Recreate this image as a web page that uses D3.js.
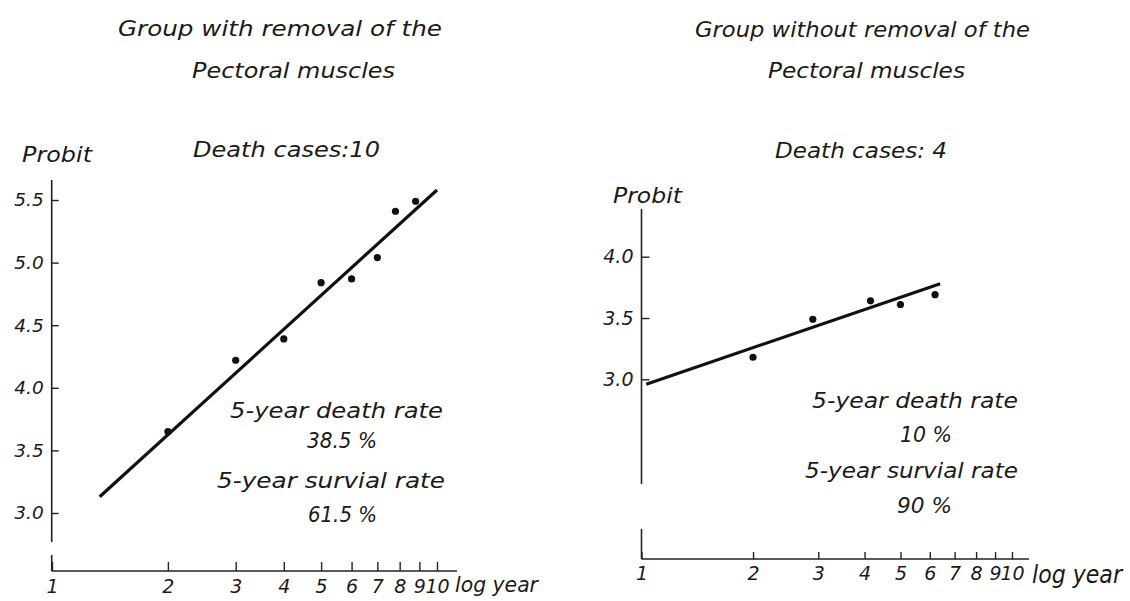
<!DOCTYPE html>
<html>
<head>
<meta charset="utf-8">
<script src="https://cdn.jsdelivr.net/npm/d3@7"></script>
<style>
  html, body { margin: 0; padding: 0; background: #fff; }
  svg { display: block; }
  text { font-family: "DejaVu Sans", sans-serif; font-style: italic; fill: #1a1a1a; }
</style>
</head>
<body>
<svg id="chart" width="1130" height="601"></svg>
<script>
// ---------------- DATA ----------------
const xTickValues = [1, 2, 3, 4, 5, 6, 7, 8, 9, 10];

// Left panel: group with removal of the pectoral muscles
const leftYears   = [2, 3, 4, 5, 6, 7, 7.8, 8.8];
const leftProbits = [3.65, 4.22, 4.39, 4.84, 4.87, 5.04, 5.41, 5.49];
const leftFitYears   = [1.33, 10];
const leftFitProbits = [3.13, 5.58];
const leftYTicks = [3.0, 3.5, 4.0, 4.5, 5.0, 5.5];

// Right panel: group without removal of the pectoral muscles
const rightYears   = [2, 2.9, 4.15, 5, 6.2];
const rightProbits = [3.18, 3.49, 3.64, 3.61, 3.69];
const rightFitYears   = [1.03, 6.4];
const rightFitProbits = [2.96, 3.78];
const rightYTicks = [3.0, 3.5, 4.0];

const leftTexts  = ["Group with removal of the", "Pectoral muscles", "Death cases:10", "Probit",
                    "5-year death rate", "38.5 %", "5-year survial rate", "61.5 %", "log year"];
const rightTexts = ["Group without removal of the", "Pectoral muscles", "Death cases: 4", "Probit",
                    "5-year death rate", "10 %", "5-year survial rate", "90 %", "log year"];

// ---------------- LAYOUT ----------------
const svg = d3.select("#chart");

const panels = [
  {
    years: leftYears, probits: leftProbits, fitX: leftFitYears, fitY: leftFitProbits,
    yTicks: leftYTicks, texts: leftTexts,
    xRange: [52, 437], yDomain: [3.0, 5.5], yRange: [513, 200],
    axisX: 51.7, axisY: 571,
    yAxisSegs: [[180, 542], [555, 571]], xAxisEnd: 457,
    yTickLen: 7, xTickLen: 9, yLabelSize: 18.5, xLabelSize: 19, xLabelPad: 9,
    textPos: [
      [118, 36, 324, 21], [192, 78, 203, 21], [193, 157, 187, 21], [22, 162, 70, 22],
      [230, 418, 213, 21], [307, 448, 70, 21], [217, 488, 228, 21], [308, 522, 69, 21],
      [455, 592, 83, 22]
    ]
  },
  {
    years: rightYears, probits: rightProbits, fitX: rightFitYears, fitY: rightFitProbits,
    yTicks: rightYTicks, texts: rightTexts,
    xRange: [641.5, 1012], yDomain: [3.0, 4.0], yRange: [379.3, 256.7],
    axisX: 641.5, axisY: 559,
    yAxisSegs: [[209, 484], [529, 559]], xAxisEnd: 1029,
    yTickLen: 8, xTickLen: 7, yLabelSize: 19, xLabelSize: 19, xLabelPad: 8,
    textPos: [
      [695, 37, 335, 21], [768, 78, 197, 21], [775, 158, 172, 21], [613, 203, 69, 22],
      [812, 408, 206, 21], [900, 442, 52, 21], [805, 478, 213, 21], [897, 513, 55, 21],
      [1032, 583, 90, 24]
    ]
  }
];

panels.forEach(p => {
  const g = svg.append("g");
  const x = d3.scaleLog().domain([1, 10]).range(p.xRange);
  const y = d3.scaleLinear().domain(p.yDomain).range(p.yRange);

  // broken y axis line
  p.yAxisSegs.forEach(s => {
    g.append("line").attr("x1", p.axisX).attr("x2", p.axisX)
      .attr("y1", s[0]).attr("y2", s[1])
      .attr("stroke", "#222").attr("stroke-width", 1.6);
  });
  // x axis line
  g.append("line").attr("x1", p.axisX).attr("x2", p.xAxisEnd)
    .attr("y1", p.axisY).attr("y2", p.axisY)
    .attr("stroke", "#222").attr("stroke-width", 1.6);

  // y axis ticks (inward)
  const yAxis = d3.axisLeft(y).tickValues(p.yTicks).tickFormat(d3.format(".1f"))
    .tickSizeInner(-p.yTickLen).tickSizeOuter(0).tickPadding(8);
  const ya = g.append("g").attr("transform", `translate(${p.axisX},0)`).call(yAxis);
  ya.select(".domain").remove();
  ya.selectAll("line").attr("stroke", "#222").attr("stroke-width", 1.4);
  ya.selectAll("text").attr("font-size", p.yLabelSize)
    .style("font-family", "'DejaVu Sans', sans-serif").style("font-style", "italic").attr("fill", "#1a1a1a");

  // x axis ticks (upward)
  const xAxis = d3.axisBottom(x).tickValues(xTickValues).tickFormat(d3.format("d"))
    .tickSizeInner(-p.xTickLen).tickSizeOuter(0).tickPadding(p.xLabelPad);
  const xa = g.append("g").attr("transform", `translate(0,${p.axisY})`).call(xAxis);
  xa.select(".domain").remove();
  xa.selectAll("line").attr("stroke", "#222").attr("stroke-width", 1.4);
  xa.selectAll("text").attr("font-size", p.xLabelSize)
    .style("font-family", "'DejaVu Sans', sans-serif").style("font-style", "italic").attr("fill", "#1a1a1a");

  // regression line
  const fit = p.fitX.map((v, i) => [v, p.fitY[i]]);
  g.append("path").datum(fit)
    .attr("d", d3.line().x(d => x(d[0])).y(d => y(d[1])))
    .attr("fill", "none").attr("stroke", "#111").attr("stroke-width", 3.2);

  // points
  g.selectAll("circle.pt").data(p.years.map((v, i) => [v, p.probits[i]]))
    .join("circle").attr("class", "pt")
    .attr("cx", d => x(d[0])).attr("cy", d => y(d[1])).attr("r", 3.6)
    .attr("fill", "#111");

  // texts
  p.texts.forEach((t, i) => {
    const [tx, ty, len, fs] = p.textPos[i];
    g.append("text").attr("x", tx).attr("y", ty)
      .attr("font-size", fs)
      .attr("textLength", len).attr("lengthAdjust", "spacingAndGlyphs")
      .text(t);
  });
});
</script>
</body>
</html>
